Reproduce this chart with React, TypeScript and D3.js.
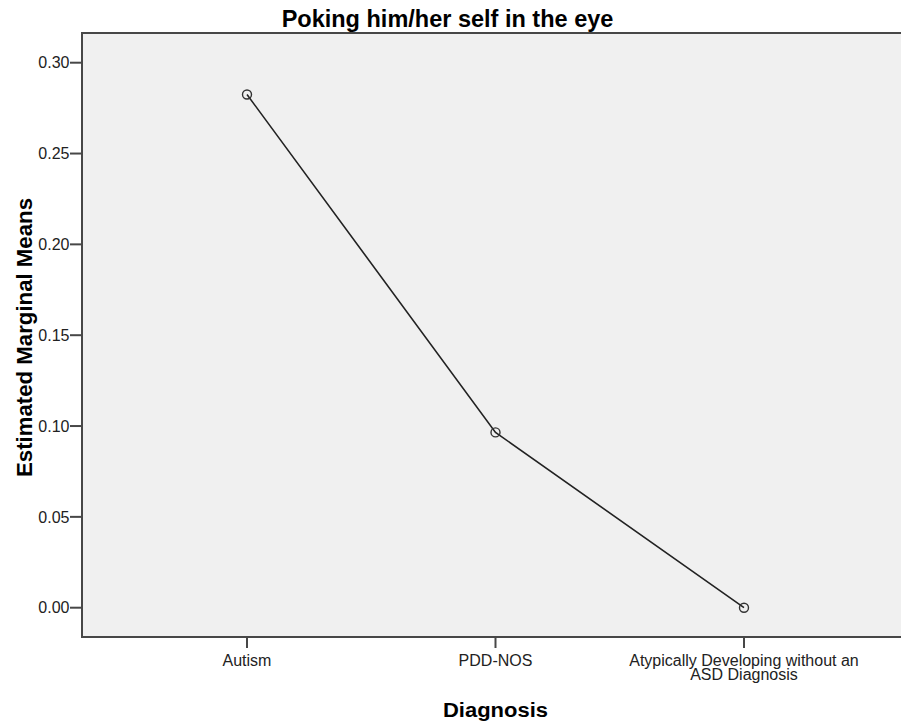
import React from "react";
import * as d3 from "d3";

const categories = ["Autism", "PDD-NOS", "Atypically Developing without an|ASD Diagnosis"];
const means = [0.2825, 0.0965, 0.0];
const yTicks = [0, 0.05, 0.1, 0.15, 0.2, 0.25, 0.3];
const title = "Poking him/her self in the eye";
const xTitle = "Diagnosis";
const yTitle = "Estimated Marginal Means";

export default function App() {
  const W = 901, H = 727;
  const left = 82, top = 33, right = 909, bottom = 637;
  const x = d3.scalePoint<string>().domain(categories).range([left, right]).padding(0.664);
  const y = d3.scaleLinear().domain([0, 0.3]).range([607.7, 62.7]);
  const line = d3.line<number>().x((_, i) => x(categories[i])!).y((d) => y(d));
  const font = "'Liberation Sans', Arial, sans-serif";
  const axisColor = "#474747";
  return (
    <svg width={W} height={H} style={{ position: "absolute", left: 0, top: 0, background: "#fff" }} fontFamily={font}>
      <rect x={left} y={top} width={right - left} height={bottom - top} fill="#f0f0f0" stroke="none" />
      <line x1={left} x2={right} y1={top} y2={top} stroke={axisColor} strokeWidth={2} />
      <line x1={left} x2={right} y1={bottom} y2={bottom} stroke={axisColor} strokeWidth={2} />
      <line x1={left} x2={left} y1={top - 1} y2={bottom + 1} stroke={axisColor} strokeWidth={2} />
      {yTicks.map((t) => (
        <g key={t}>
          <line x1={left - 12} x2={left} y1={y(t)} y2={y(t)} stroke={axisColor} strokeWidth={2} />
          <text x={left - 12.5} y={y(t)} dy="0.36em" textAnchor="end" fontSize={16} fill="#222">
            {t.toFixed(2)}
          </text>
        </g>
      ))}
      {categories.map((c) => {
        const lines = c.split("|");
        return (
          <g key={c}>
            <line x1={x(c)} x2={x(c)} y1={bottom} y2={bottom + 11} stroke={axisColor} strokeWidth={2} />
            {lines.map((l, j) => (
              <text key={j} x={x(c)} y={665.5 + j * 14.5} textAnchor="middle" fontSize={16} fill="#222">
                {l}
              </text>
            ))}
          </g>
        );
      })}
      <path d={line(means) || ""} fill="none" stroke="#222" strokeWidth={1.6} />
      {means.map((m, i) => (
        <circle key={i} cx={x(categories[i])} cy={y(m)} r={4.5} fill="none" stroke="#333" strokeWidth={1.4} />
      ))}
      <text x={447.5} y={26.5} textAnchor="middle" fontSize={23.5} fontWeight="bold" fill="#000">
        {title}
      </text>
      <text x={495.5} y={717} textAnchor="middle" fontSize={20} fontWeight="bold" fill="#000" textLength={105} lengthAdjust="spacingAndGlyphs">
        {xTitle}
      </text>
      <text transform={`translate(31.5,337.5) rotate(-90)`} textAnchor="middle" fontSize={21.5} fontWeight="bold" fill="#000" textLength={279} lengthAdjust="spacingAndGlyphs">
        {yTitle}
      </text>
    </svg>
  );
}
